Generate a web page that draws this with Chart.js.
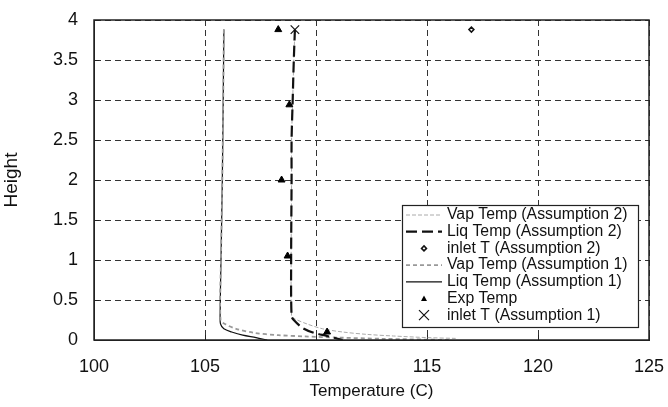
<!DOCTYPE html>
<html><head><meta charset="utf-8">
<script src="https://cdn.jsdelivr.net/npm/chart.js@4/dist/chart.umd.min.js"></script>
<style>html,body{margin:0;padding:0;background:#fff}#wrap{width:668px;height:407px}</style>
</head><body><div id="wrap"><canvas id="c" width="668" height="407"></canvas></div>
<script>
// Data (temperature in C, height)
const xTicks = [100, 105, 110, 115, 120, 125];
const yTicks = [0, 0.5, 1, 1.5, 2, 2.5, 3, 3.5, 4];

const vapA2T = [109.05, 109.0, 108.95, 108.9, 108.9, 108.88, 108.9, 109.0, 109.6, 110.3, 111.2, 112.3, 113.5, 115.0, 116.3];
const vapA2H = [3.88, 3.5, 3.0, 2.5, 2.0, 1.0, 0.3, 0.27, 0.2, 0.14, 0.1, 0.07, 0.05, 0.03, 0.02];

const liqA2T = [109.05, 109.0, 108.95, 108.9, 108.9, 108.88, 108.9, 109.0, 109.4, 109.9, 110.5, 111.2];
const liqA2H = [3.88, 3.5, 3.0, 2.5, 2.0, 1.0, 0.3, 0.25, 0.15, 0.09, 0.05, 0.0];

const inletA2T = [117.0];
const inletA2H = [3.88];

const vapA1T = [105.85, 105.82, 105.78, 105.72, 105.7, 105.9, 106.4, 107.2, 108.3, 109.5, 111.0, 113.0, 116.0];
const vapA1H = [3.88, 3.0, 2.0, 1.0, 0.25, 0.2, 0.14, 0.09, 0.06, 0.045, 0.03, 0.015, 0.0];

const liqA1T = [105.85, 105.82, 105.78, 105.72, 105.68, 105.7, 105.85, 106.2, 106.7, 107.3, 107.8];
const liqA1H = [3.88, 3.0, 2.0, 1.0, 0.3, 0.2, 0.14, 0.1, 0.06, 0.03, 0.0];

const expT = [108.3, 108.8, 108.45, 108.72, 110.5];
const expH = [3.88, 2.94, 2.0, 1.05, 0.1];

const inletA1T = [109.05];
const inletA1H = [3.88];

const labels = ['Vap Temp (Assumption 2)', 'Liq Temp (Assumption 2)', 'inlet T (Assumption 2)',
  'Vap Temp (Assumption 1)', 'Liq Temp (Assumption 1)', 'Exp Temp', 'inlet T (Assumption 1)'];

const pts = (xs, ys) => xs.map((x, i) => ({x: x, y: ys[i]}));

const FONT = '"Liberation Sans", Arial, sans-serif';

const datasets = [
  {label: labels[0], data: pts(vapA2T, vapA2H), showLine: true, borderColor: '#aaaaaa', borderWidth: 1, borderDash: [4, 2], pointRadius: 0, tension: 0.3, order: 3},
  {label: labels[1], data: pts(liqA2T, liqA2H), showLine: true, borderColor: '#111111', borderWidth: 2.2, borderDash: [11, 5], pointRadius: 0, tension: 0.3, order: 1},
  {label: labels[2], data: pts(inletA2T, inletA2H), showLine: false, pointStyle: 'rectRot', pointRadius: 2.5, borderColor: '#111', borderWidth: 1.5, backgroundColor: '#fff'},
  {label: labels[3], data: pts(vapA1T, vapA1H), showLine: true, borderColor: '#999999', borderWidth: 1.8, borderDash: [4, 3], pointRadius: 0, tension: 0.3, order: 2},
  {label: labels[4], data: pts(liqA1T, liqA1H), showLine: true, borderColor: '#111111', borderWidth: 1.2, pointRadius: 0, tension: 0.3, order: 4},
  {label: labels[5], data: pts(expT, expH), showLine: false, pointStyle: 'triangle', pointRadius: 4, borderColor: '#000', borderWidth: 1, backgroundColor: '#000'},
  {label: labels[6], data: pts(inletA1T, inletA1H), showLine: false, pointStyle: 'crossRot', pointRadius: 6, borderColor: '#111', borderWidth: 1.2}
];

const frame = {
  id: 'frame',
  beforeDatasetsDraw(chart) {
    const {ctx, chartArea: a, scales: {x, y}} = chart;
    ctx.save();
    ctx.strokeStyle = '#222';
    ctx.lineWidth = 1;
    ctx.setLineDash([]);
    ctx.beginPath();
    yTicks.forEach(v => { const py = Math.round(y.getPixelForValue(v)) + 0.5; ctx.moveTo(a.left, py); ctx.lineTo(a.left + 5, py); });
    xTicks.forEach(v => { const px = Math.round(x.getPixelForValue(v)) + 0.5; ctx.moveTo(px, a.bottom); ctx.lineTo(px, a.bottom - 5); });
    ctx.stroke();
    ctx.restore();
  },
  afterDraw(chart) {
    const {ctx, chartArea: a} = chart;
    ctx.save();
    ctx.setLineDash([]);
    ctx.strokeStyle = '#222';
    ctx.lineWidth = 1.5;
    ctx.strokeRect(a.left, a.top, a.right - a.left, a.bottom - a.top);
    // legend
    const lx = 402, ly = 205, lw = 236, lh = 122;
    ctx.fillStyle = '#fff';
    ctx.fillRect(lx, ly, lw, lh);
    ctx.lineWidth = 1.2;
    ctx.strokeRect(lx + 0.5, ly + 0.5, lw, lh);
    ctx.font = '15.8px ' + FONT;
    ctx.textBaseline = 'middle';
    const rowH = 16.7;
    chart.data.datasets.forEach((ds, i) => {
      const cy = ly + 10 + i * rowH;
      const sx = lx + 4, ex = lx + 40;
      ctx.setLineDash([]);
      if (ds.showLine) {
        ctx.strokeStyle = ds.borderColor;
        ctx.lineWidth = ds.borderWidth;
        ctx.setLineDash(ds.borderDash || []);
        ctx.beginPath(); ctx.moveTo(sx, cy); ctx.lineTo(ex, cy); ctx.stroke();
        ctx.setLineDash([]);
      } else {
        const cx = (sx + ex) / 2;
        ctx.strokeStyle = ds.borderColor; ctx.lineWidth = ds.borderWidth;
        if (ds.pointStyle === 'rectRot') {
          ctx.fillStyle = '#fff';
          ctx.beginPath(); ctx.moveTo(cx, cy - 2.5); ctx.lineTo(cx + 2.5, cy); ctx.lineTo(cx, cy + 2.5); ctx.lineTo(cx - 2.5, cy); ctx.closePath(); ctx.fill(); ctx.stroke();
        } else if (ds.pointStyle === 'triangle') {
          ctx.fillStyle = '#000';
          ctx.beginPath(); ctx.moveTo(cx, cy - 3); ctx.lineTo(cx + 3, cy + 2.5); ctx.lineTo(cx - 3, cy + 2.5); ctx.closePath(); ctx.fill();
        } else {
          ctx.beginPath(); ctx.moveTo(cx - 5, cy - 5); ctx.lineTo(cx + 5, cy + 5); ctx.moveTo(cx + 5, cy - 5); ctx.lineTo(cx - 5, cy + 5); ctx.stroke();
        }
      }
      ctx.fillStyle = '#111';
      ctx.fillText(ds.label, lx + 45, cy);
    });
    ctx.restore();
  }
};

new Chart(document.getElementById('c'), {
  type: 'scatter',
  data: {datasets: datasets},
  options: {
    responsive: false,
    animation: false,
    layout: {padding: {left: 0, right: 19, top: 20, bottom: 0}},
    plugins: {legend: {display: false}, tooltip: {enabled: false}},
    scales: {
      x: {
        type: 'linear', min: 100, max: 125,
        afterBuildTicks: s => { s.ticks = xTicks.map(v => ({value: v})); },
        afterFit: s => { s.height = 67; s.paddingLeft = 0; s.paddingRight = 0; },
        ticks: {color: '#111', font: {family: FONT, size: 18}, padding: 16, maxRotation: 0, callback: v => String(v)},
        grid: {color: '#333', lineWidth: 1, drawTicks: false, tickLength: 0},
        border: {display: true, color: '#222', dash: [6, 4]},
        title: {display: true, text: 'Temperature (C)', color: '#111', font: {family: FONT, size: 17}, padding: {top: 4, bottom: 5}}
      },
      y: {
        type: 'linear', min: 0, max: 4,
        afterBuildTicks: s => { s.ticks = yTicks.map(v => ({value: v})); },
        afterFit: s => { s.width = 94; s.paddingTop = 0; s.paddingBottom = 0; },
        ticks: {color: '#111', font: {family: FONT, size: 18}, padding: 16, callback: v => String(v)},
        grid: {color: '#333', lineWidth: 1, drawTicks: false, tickLength: 0},
        border: {display: true, color: '#222', dash: [6, 4]},
        title: {display: true, text: 'Height', color: '#111', font: {family: FONT, size: 19}, padding: {top: 0, bottom: 2}}
      }
    },
    elements: {line: {borderCapStyle: 'butt'}}
  },
  plugins: [frame]
});
</script>
</body></html>
